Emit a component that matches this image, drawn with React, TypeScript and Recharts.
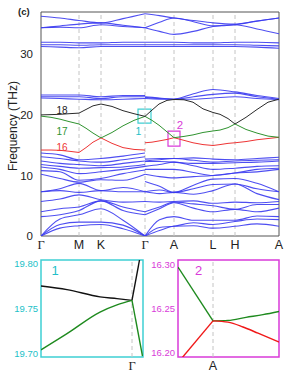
import React from 'react';
import { LineChart, Line, XAxis, YAxis, ReferenceLine, ReferenceArea } from 'recharts';

// ---- main band structure ----
const pathTicks = [0, 38, 60, 104, 133, 172, 194, 238];
const pathLabels = ['Γ', 'M', 'K', 'Γ', 'A', 'L', 'H', 'A'];
const freqTicks = [0, 10, 20, 30];

const leftX = [0, 19, 38, 60, 82, 104];
const rightX = [104, 118.5, 133, 152.5, 172, 194, 216, 238];

const blueLeft: number[][] = [
  [0, 1.3, 1.7, 1.9, 1.2, 0],
  [0, 1.9, 2.3, 2.3, 1.8, 0],
  [0, 2.8, 3.5, 4.5, 2.6, 0],
  [3.2, 3.5, 4.2, 5.8, 4.2, 3.5],
  [4.0, 4.5, 4.8, 5.8, 4.8, 4.0],
  [5.7, 6.1, 6.8, 6.0, 5.6, 5.7],
  [7.3, 7.5, 7.2, 7.5, 7.3, 7.3],
  [7.3, 7.8, 8.7, 7.5, 8.0, 7.3],
  [10.2, 9.5, 8.9, 9.3, 9.2, 10.2],
  [10.8, 10.6, 9.2, 9.5, 10.3, 10.9],
  [11.4, 11.0, 10.3, 10.6, 11.0, 11.5],
  [11.8, 11.5, 11.2, 11.3, 11.4, 11.8],
  [12.4, 12.0, 11.8, 11.6, 12.0, 12.4],
  [13.1, 12.8, 12.4, 12.2, 12.6, 13.1],
  [13.7, 13.4, 12.6, 12.8, 13.2, 13.7],
  [22.8, 22.7, 22.6, 22.5, 22.6, 22.7],
  [23.0, 23.0, 23.0, 22.7, 23.0, 23.0],
  [23.3, 23.3, 23.3, 23.0, 23.2, 23.2],
  [31.3, 31.2, 31.1, 31.3, 31.3, 31.3],
  [31.6, 31.6, 31.5, 31.6, 31.6, 31.6],
  [32.0, 32.0, 31.9, 31.9, 32.0, 32.0],
  [34.4, 34.5, 34.4, 34.9, 34.6, 34.4],
  [34.4, 34.7, 35.0, 35.2, 34.8, 34.4],
  [36.3, 36.0, 35.6, 35.2, 35.9, 36.7],
];

const blueRight: number[][] = [
  [0, 0.9, 1.6, 1.7, 1.3, 1.6, 2.0, 1.6],
  [0, 1.4, 1.6, 2.2, 1.9, 2.4, 2.8, 2.7],
  [0, 2.7, 3.2, 2.6, 2.6, 2.6, 3.3, 3.2],
  [3.5, 4.5, 5.5, 4.6, 4.0, 4.4, 4.0, 4.6],
  [4.0, 4.8, 5.6, 5.3, 5.0, 4.4, 5.2, 5.2],
  [5.7, 5.6, 5.7, 5.8, 5.4, 5.6, 5.5, 5.7],
  [7.3, 7.0, 7.2, 6.9, 7.5, 8.6, 7.0, 6.0],
  [7.3, 7.6, 7.2, 7.8, 8.5, 8.6, 7.8, 7.3],
  [9.0, 8.2, 7.2, 8.4, 9.4, 9.5, 8.7, 7.3],
  [10.2, 9.8, 9.6, 9.8, 10.0, 10.4, 10.6, 11.0],
  [11.0, 11.0, 11.0, 10.5, 10.0, 10.4, 11.0, 11.2],
  [11.5, 11.8, 12.2, 11.6, 11.0, 11.2, 11.5, 11.6],
  [12.3, 12.3, 12.2, 12.0, 12.0, 12.1, 12.2, 12.4],
  [12.4, 12.6, 12.8, 12.5, 12.2, 12.4, 12.5, 12.6],
  [12.7, 12.8, 12.8, 12.9, 12.7, 12.6, 12.8, 13.0],
  [22.7, 22.6, 22.6, 22.6, 22.8, 23.0, 22.7, 22.5],
  [22.9, 22.7, 22.6, 23.0, 23.4, 23.6, 23.0, 22.6],
  [23.0, 22.8, 22.6, 23.5, 24.2, 23.8, 23.2, 22.7],
  [31.3, 31.3, 31.3, 31.3, 31.3, 31.3, 31.2, 31.0],
  [31.6, 31.6, 31.6, 31.6, 31.6, 31.6, 31.5, 31.4],
  [32.0, 32.0, 32.0, 31.9, 31.9, 32.0, 32.0, 31.9],
  [34.4, 33.8, 33.3, 33.8, 34.6, 34.9, 34.2, 33.4],
  [34.4, 35.3, 36.0, 35.4, 34.7, 34.9, 35.5, 36.0],
  [36.7, 36.4, 36.0, 35.6, 35.2, 35.0, 35.5, 36.0],
];

const colLeftX = [0, 10, 19, 28, 38, 45, 52, 60, 71, 82, 93, 104];
const colRightX = [104, 111, 118, 126, 133, 143, 152, 162, 172, 179, 187, 194, 205, 216, 227, 238];

const band18Left = [20.0, 20.05, 20.1, 20.2, 20.3, 20.9, 21.5, 21.8, 21.4, 20.7, 20.2, 19.76];
const band18Right = [19.76, 20.8, 21.8, 22.4, 22.55, 22.5, 22.1, 21.0, 20.4, 20.1, 19.4, 18.5, 19.6, 20.9, 22.1, 22.6];
const band17Left = [19.8, 19.6, 19.3, 18.9, 18.5, 17.8, 17.0, 16.2, 17.1, 18.2, 19.1, 19.76];
const band17Right = [19.76, 19.1, 18.3, 17.2, 16.24, 16.45, 16.7, 17.1, 17.35, 17.5, 17.9, 18.5, 17.6, 17.0, 16.5, 16.3];
const band16Left = [14.2, 14.2, 14.15, 14.0, 13.8, 14.6, 15.5, 16.2, 15.3, 14.6, 14.3, 14.2];
const band16Right = [15.4, 15.5, 15.7, 15.95, 16.24, 15.8, 15.4, 15.1, 14.95, 15.1, 15.3, 15.4, 15.6, 15.9, 16.1, 16.3];

// ---- inset 1 (near Γ) ----
const inset1Ticks = [19.7, 19.75, 19.8];
const inset1BlackL = [[-91, 19.775], [-65, 19.771], [-32, 19.763], [-15, 19.761], [0, 19.759]];
const inset1BlackR = [[0, 19.759], [8.5, 19.81]];
const inset1GreenL = [[-91, 19.704], [-65, 19.722], [-32, 19.746], [-15, 19.754], [0, 19.759]];
const inset1GreenR = [[0, 19.759], [10.5, 19.697]];

// ---- inset 2 (near A) ----
const inset2Ticks = [16.2, 16.25, 16.3];
const inset2GreenL = [[-35, 16.297], [0, 16.236]];
const inset2GreenR = [[0, 16.236], [15, 16.2365], [33, 16.24], [50, 16.243], [66, 16.2466]];
const inset2RedL = [[-31, 16.194], [0, 16.236]];
const inset2RedR = [[0, 16.236], [15, 16.2345], [30, 16.229], [45, 16.222], [66, 16.212]];

const BLUE = '#3b3bef';
const RED = '#ee3434';
const GREEN = '#2f932f';
const BLACK = '#2a2a2a';
const CYAN = '#3fcfd3';
const CYAN_T = '#22bfc8';
const MAG = '#d93bd9';
const SANS = 'Liberation Sans, Arial, sans-serif';
const SERIF = 'Liberation Serif, Times New Roman, serif';

const toPts = (xs: number[], ys: number[]) => ys.map((y, i) => ({ x: xs[i], y }));
const pairPts = (arr: number[][]) => arr.map(([x, y]) => ({ x, y }));

const PathTick = (props: any) => {
  const { x, y, payload } = props;
  const idx = pathTicks.indexOf(payload.value);
  const label = pathLabels[idx] ?? '';
  return (
    <text x={x} y={y + 12.5} textAnchor="middle" fontSize={12.5} fill="#222"
      fontFamily={label === 'Γ' ? SERIF : SANS}>{label}</text>
  );
};

const makeSingleTick = (label: string, serif: boolean) => (props: any) => {
  const { x, y } = props;
  return (
    <text x={x} y={y + 12.5} textAnchor="middle" fontSize={12.5} fill="#222"
      fontFamily={serif ? SERIF : SANS}>{label}</text>
  );
};

export default function App() {
  const lineProps = { dataKey: 'y', dot: false, isAnimationActive: false, activeDot: false } as any;
  return (
    <div style={{ position: 'absolute', left: 0, top: 0, width: 305, height: 375, background: '#fff', fontFamily: SANS }}>
      <div style={{ position: 'absolute', left: 0, top: 0 }}>
        <LineChart width={305} height={260} margin={{ top: 12, right: 26, bottom: 0, left: 0 }}>
          <XAxis type="number" dataKey="x" domain={[0, 238]} ticks={pathTicks} interval={0}
            height={24} tickSize={0} tickMargin={0} axisLine={false} tickLine={false}
            tick={PathTick} allowDataOverflow />
          <YAxis type="number" domain={[0, 37]} ticks={freqTicks} width={41} interval={0}
            axisLine={false} tickLine={false} allowDataOverflow
            tick={{ fontSize: 11.5, fill: '#222', fontFamily: SANS }} />
          {pathTicks.slice(1, -1).map((t, i) => (
            <ReferenceLine key={'rl' + i} x={t} stroke="#c4c4c4" strokeDasharray="4 3" strokeWidth={1} />
          ))}
          {blueLeft.map((b, i) => (
            <Line key={'bl' + i} {...lineProps} data={toPts(leftX, b)} type="monotone"
              stroke={BLUE} strokeWidth={1.1} strokeOpacity={0.9} />
          ))}
          {blueRight.map((b, i) => (
            <Line key={'br' + i} {...lineProps} data={toPts(rightX, b)} type="monotone"
              stroke={BLUE} strokeWidth={1.1} strokeOpacity={0.9} />
          ))}
          <Line {...lineProps} data={toPts(colLeftX, band16Left)} type="linear" stroke={RED} strokeWidth={1} />
          <Line {...lineProps} data={toPts(colRightX, band16Right)} type="linear" stroke={RED} strokeWidth={1} />
          <Line {...lineProps} data={toPts(colLeftX, band17Left)} type="linear" stroke={GREEN} strokeWidth={1} />
          <Line {...lineProps} data={toPts(colRightX, band17Right)} type="linear" stroke={GREEN} strokeWidth={1} />
          <Line {...lineProps} data={toPts(colLeftX, band18Left)} type="linear" stroke={BLACK} strokeWidth={1} />
          <Line {...lineProps} data={toPts(colRightX, band18Right)} type="linear" stroke={BLACK} strokeWidth={1} />
          <ReferenceArea x1={97} x2={110} y1={18.65} y2={20.96} fill="none" stroke={CYAN} strokeWidth={1.2} fillOpacity={0} ifOverflow="visible" />
          <ReferenceArea x1={127} x2={139} y1={14.85} y2={17.33} fill="none" stroke={MAG} strokeWidth={1.2} fillOpacity={0} ifOverflow="visible" />
          <ReferenceArea x1={0} x2={238} y1={0} y2={37} fill="none" fillOpacity={0} stroke="#555" strokeWidth={1} ifOverflow="visible" />
        </LineChart>
      </div>

      <div style={{ position: 'absolute', left: 0, top: 250 }}>
        <LineChart width={150} height={125} margin={{ top: 10, right: 7, bottom: 0, left: 0 }}>
          <XAxis type="number" dataKey="x" domain={[-91, 11]} ticks={[0]} height={18} tickSize={0} tickMargin={0}
            axisLine={false} tickLine={false} tick={makeSingleTick('Γ', true)} allowDataOverflow />
          <YAxis type="number" domain={[19.696, 19.804]} ticks={inset1Ticks} width={41} interval={0}
            tickFormatter={(v: number) => v.toFixed(2)} axisLine={false} tickLine={false} tickSize={2} tickMargin={1}
            tick={{ fontSize: 9.5, fill: CYAN_T, fontFamily: SANS }} allowDataOverflow />
          <ReferenceLine x={0} stroke="#c4c4c4" strokeDasharray="4 3" />
          <Line {...lineProps} data={pairPts(inset1BlackL)} type="monotone" stroke="#111" strokeWidth={1.4} />
          <Line {...lineProps} data={pairPts(inset1BlackR)} type="linear" stroke="#111" strokeWidth={1.4} />
          <Line {...lineProps} data={pairPts(inset1GreenL)} type="monotone" stroke="#1e8a1e" strokeWidth={1.4} />
          <Line {...lineProps} data={pairPts(inset1GreenR)} type="linear" stroke="#1e8a1e" strokeWidth={1.4} />
          <ReferenceArea x1={-91} x2={11} y1={19.696} y2={19.804} fill="none" fillOpacity={0} stroke={CYAN} strokeWidth={1.5} ifOverflow="visible" />
        </LineChart>
      </div>

      <div style={{ position: 'absolute', left: 137, top: 250 }}>
        <LineChart width={150} height={125} margin={{ top: 10, right: 8, bottom: 0, left: 0 }}>
          <XAxis type="number" dataKey="x" domain={[-35, 66]} ticks={[0]} height={18} tickSize={0} tickMargin={0}
            axisLine={false} tickLine={false} tick={makeSingleTick('A', false)} allowDataOverflow />
          <YAxis type="number" domain={[16.195, 16.305]} ticks={inset2Ticks} width={41} interval={0}
            tickFormatter={(v: number) => v.toFixed(2)} axisLine={false} tickLine={false} tickSize={2} tickMargin={1}
            tick={{ fontSize: 9.5, fill: MAG, fontFamily: SANS }} allowDataOverflow />
          <ReferenceLine x={0} stroke="#c4c4c4" strokeDasharray="4 3" />
          <Line {...lineProps} data={pairPts(inset2GreenL)} type="linear" stroke="#1e8a1e" strokeWidth={1.4} />
          <Line {...lineProps} data={pairPts(inset2GreenR)} type="monotone" stroke="#1e8a1e" strokeWidth={1.4} />
          <Line {...lineProps} data={pairPts(inset2RedL)} type="linear" stroke="#f01818" strokeWidth={1.4} />
          <Line {...lineProps} data={pairPts(inset2RedR)} type="monotone" stroke="#f01818" strokeWidth={1.4} />
          <ReferenceArea x1={-35} x2={66} y1={16.195} y2={16.305} fill="none" fillOpacity={0} stroke={MAG} strokeWidth={1.5} ifOverflow="visible" />
        </LineChart>
      </div>

      <svg width={305} height={375} style={{ position: 'absolute', left: 0, top: 0, pointerEvents: 'none' }}>
        <text x={18} y={15} fontSize={9.5} fontWeight="bold" fill="#222" fontFamily={SANS}>(c)</text>
        <text transform="translate(17,126) rotate(-90)" textAnchor="middle" fontSize={12} fill="#222" fontFamily={SANS}>Frequency (THz)</text>
        <text x={62} y={113.5} textAnchor="middle" fontSize={10} fill="#222" fontFamily={SANS}>18</text>
        <text x={62} y={135} textAnchor="middle" fontSize={10} fill={GREEN} fontFamily={SANS}>17</text>
        <text x={62} y={151} textAnchor="middle" fontSize={10} fill={RED} fontFamily={SANS}>16</text>
        <text x={138.5} y={135} textAnchor="middle" fontSize={10.5} fill={CYAN_T} fontFamily={SANS}>1</text>
        <text x={180} y={129} textAnchor="middle" fontSize={11.5} fill={MAG} fontFamily={SANS}>2</text>
        <text x={55} y={275} textAnchor="middle" fontSize={13} fill={CYAN_T} fontFamily={SANS}>1</text>
        <text x={198.5} y={275} textAnchor="middle" fontSize={13} fill={MAG} fontFamily={SANS}>2</text>
      </svg>
    </div>
  );
}
